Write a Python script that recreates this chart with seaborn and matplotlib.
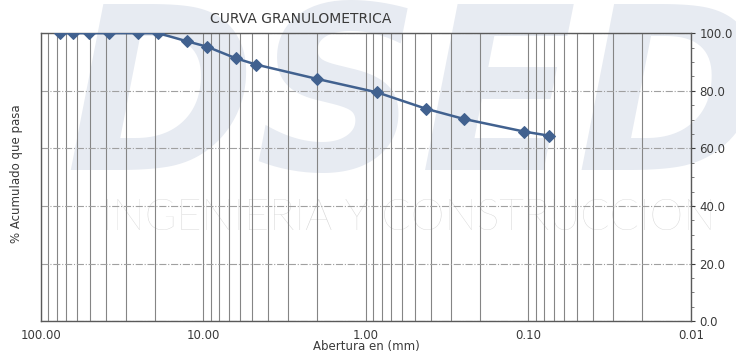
import numpy as np
import matplotlib
matplotlib.use("Agg")
import matplotlib.pyplot as plt
import matplotlib.ticker as ticker
import seaborn as sns

# tamices (mm) y % acumulado que pasa
aberturas = [76.2, 63.5, 50.8, 38.1, 25.4, 19.05, 12.7, 9.525, 6.35, 4.76,
             2.0, 0.85, 0.425, 0.25, 0.106, 0.075]
pasa = [100.0, 100.0, 100.0, 100.0, 100.0, 100.0, 97.2, 95.3, 91.3, 89.1,
        84.1, 79.4, 73.7, 70.2, 65.8, 64.4]

x_ticks = [100, 10, 1, 0.1, 0.01]
x_labels = ["100.00", "10.00", "1.00", "0.10", "0.01"]
y_ticks = [0, 20, 40, 60, 80, 100]

LINE = "#41618f"
TXT = "#3a3a3a"

sns.set_style("white")
plt.rcParams["font.family"] = ["DejaVu Sans"]

fig = plt.figure(figsize=(7.36, 3.56), dpi=100)
ax = fig.add_axes([0.0557, 0.098, 0.883, 0.809])
ax.patch.set_alpha(0)

# marca de agua del fondo
fig.text(0.565, 1.01, "DSED", fontsize=165, fontweight="bold", style="italic",
         color="#e7ebf2", ha="center", va="top", zorder=-2)
fig.text(0.555, 0.385, "INGENIERIA Y CONSTRUCCION", fontsize=31, fontweight="light",
         color="#d6d6d6", ha="center", va="center", zorder=-1, family="Lato")

sns.lineplot(x=aberturas, y=pasa, ax=ax, color=LINE, linewidth=1.8, marker="D",
             markersize=6, markeredgecolor=LINE, zorder=5)

ax.set_xscale("log")
ax.set_xlim(100, 0.01)
ax.set_ylim(0, 100)

ax.xaxis.set_major_locator(ticker.FixedLocator(x_ticks))
ax.xaxis.set_major_formatter(ticker.FixedFormatter(x_labels))
ax.xaxis.set_minor_locator(ticker.LogLocator(base=10, subs=np.arange(2, 10)))
ax.xaxis.set_minor_formatter(ticker.NullFormatter())
ax.tick_params(axis="x", which="both", length=0, pad=6, labelsize=8.5, colors=TXT)

ax.yaxis.tick_right()
ax.set_yticks(y_ticks)
ax.yaxis.set_major_formatter(ticker.FormatStrFormatter("%.1f"))
ax.yaxis.set_minor_locator(ticker.MultipleLocator(5))
ax.tick_params(axis="y", which="major", length=3, width=0.8, pad=3, labelsize=8.5,
               colors=TXT)
ax.tick_params(axis="y", which="minor", length=2.5, width=0.6, colors="#666666")

ax.grid(axis="x", which="both", color="#858585", linewidth=0.8, linestyle="-")
ax.grid(axis="y", which="major", color="#a0a0a0", linewidth=0.8, linestyle="-.")

for s in ax.spines.values():
    s.set_color("#5a5a5a")
    s.set_linewidth(1.0)

ax.set_xlabel("Abertura en (mm)", fontsize=8.5, color=TXT, labelpad=-2)
ax.set_ylabel("")
fig.text(0.022, 0.513, "% Acumulado que pasa", rotation=90, fontsize=8.5,
         color=TXT, ha="center", va="center")
fig.text(0.408, 0.948, "CURVA GRANULOMETRICA", fontsize=10, color=TXT,
         ha="center", va="center")

fig.savefig("out.png", dpi=100)
